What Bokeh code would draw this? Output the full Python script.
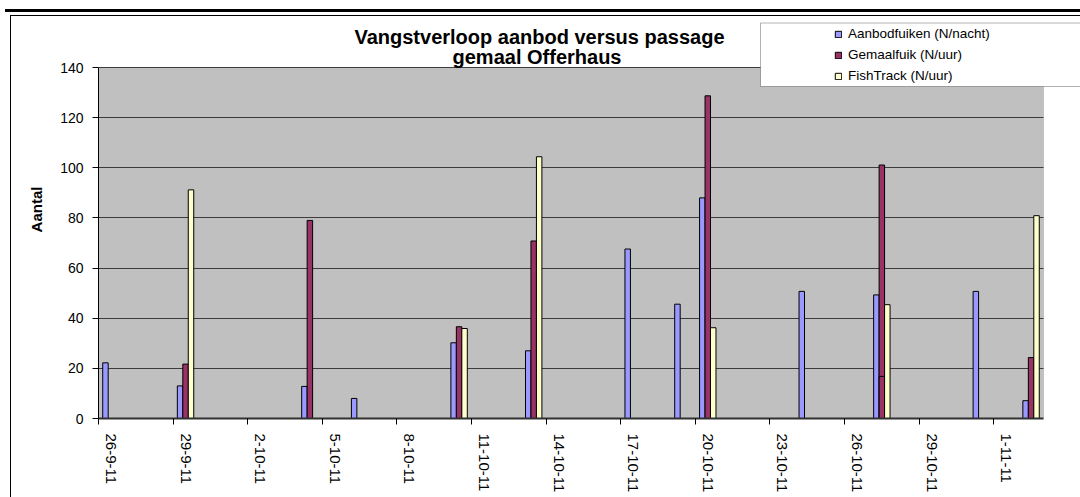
from datetime import datetime
from bokeh.plotting import figure
from bokeh.models import (Range1d, FixedTicker, Legend, LegendItem, Label,
                          BoxAnnotation, ColumnDataSource)
from bokeh.transform import dodge
from bokeh.embed import file_html
from bokeh.resources import INLINE

# ---------------- data ----------------
start_date = "26-9-11"
end_date = "2-11-11"
tick_labels = ["26-9-11", "29-9-11", "2-10-11", "5-10-11", "8-10-11", "11-10-11",
               "14-10-11", "17-10-11", "20-10-11", "23-10-11", "26-10-11",
               "29-10-11", "1-11-11"]
y_ticks = [0, 20, 40, 60, 80, 100, 120, 140]

aanbod_dates = ["26-9-11", "29-9-11", "4-10-11", "6-10-11", "10-10-11", "13-10-11",
                "17-10-11", "19-10-11", "20-10-11", "24-10-11", "27-10-11",
                "31-10-11", "2-11-11"]
aanbod_values = [22.2, 13.0, 12.8, 8.0, 30.2, 27.0, 67.6, 45.6, 88.0, 50.7, 49.3,
                 50.7, 7.1]

gemaal_dates = ["29-9-11", "4-10-11", "10-10-11", "13-10-11", "20-10-11",
                "27-10-11", "27-10-11", "2-11-11"]
gemaal_values = [21.7, 79.0, 36.6, 70.8, 128.7, 101.1, 16.8, 24.3]

fishtrack_dates = ["29-9-11", "10-10-11", "13-10-11", "20-10-11", "27-10-11",
                   "2-11-11"]
fishtrack_values = [91.2, 35.9, 104.4, 36.2, 45.4, 80.9]

series_names = ["Aanbodfuiken (N/nacht)", "Gemaalfuik (N/uur)", "FishTrack (N/uur)"]
series_colors = ["#9999FF", "#993366", "#FFFFCC"]

title_line1 = "Vangstverloop aanbod versus passage"
title_line2 = "gemaal Offerhaus"
y_label = "Aantal"

# ---------------- helpers ----------------
FONT = "Liberation Sans"


def day_index(s):
    d0 = datetime.strptime(start_date, "%d-%m-%y")
    return (datetime.strptime(s, "%d-%m-%y") - d0).days


n_days = day_index(end_date) + 1
x_lo, x_hi = -0.5, n_days - 0.5
y_lo, y_hi = y_ticks[0], y_ticks[-1]

# page geometry (px); the drawing frame is extended up to the top and right edge
W, H = 1080, 497
PL, PT, PR, PB = 98, 67, 1043, 418       # grey plot area on the page
frame_top, frame_right = 0, W
px_per_day = (PR - PL) / (x_hi - x_lo)
px_per_unit = (PB - PT) / (y_hi - y_lo)
x_end = x_hi + (frame_right - PR) / px_per_day
y_end = y_hi + (PT - frame_top) / px_per_unit


def fx(px):
    return px - PL


def fy(py):
    return PB - py


p = figure(width=W, height=H, output_backend="svg", toolbar_location=None,
           x_range=Range1d(x_lo, x_end), y_range=Range1d(y_lo, y_end),
           min_border_left=PL, min_border_right=W - frame_right,
           min_border_top=frame_top, min_border_bottom=H - PB)
p.background_fill_color = None
p.border_fill_color = None
p.outline_line_color = None

# outer chart frame lines (page decoration, drawn with CSS behind the canvas)
p.styles = {
    "background-color": "white",
    "background-image": ("linear-gradient(#000,#000), linear-gradient(#000,#000), "
                         "linear-gradient(#000,#000)"),
    "background-size": "1075px 3px, 1070px 1px, 1px 482px",
    "background-position": "5px 9px, 10px 15px, 10px 15px",
    "background-repeat": "no-repeat",
}

# grey plot area
p.add_layout(BoxAnnotation(left=x_lo, right=x_hi, bottom=y_lo, top=y_hi,
                           fill_color="#C0C0C0", fill_alpha=1,
                           line_color="#808080", line_width=1, level="image"))

# grid
p.xgrid.grid_line_color = None
p.ygrid.ticker = FixedTicker(ticks=y_ticks)
p.ygrid.grid_line_color = "#3c3c3c"
p.ygrid.grid_line_width = 1
p.ygrid.bounds = (y_lo, y_hi)
if "cross_bounds" in p.ygrid[0].properties():
    p.ygrid.cross_bounds = (x_lo, x_hi)

# y axis
p.yaxis.ticker = FixedTicker(ticks=y_ticks)
p.yaxis.bounds = (y_lo, y_hi)
p.yaxis.axis_label = y_label
p.yaxis.axis_label_text_font = FONT
p.yaxis.axis_label_text_font_style = "bold"
p.yaxis.axis_label_text_font_size = "15px"
p.yaxis.axis_label_text_color = "black"
p.yaxis.axis_label_standoff = 12
p.yaxis.major_label_text_font = FONT
p.yaxis.major_label_text_font_size = "14px"
p.yaxis.major_label_text_color = "black"
p.yaxis.major_label_standoff = 9
p.yaxis.major_tick_in = 0
p.yaxis.major_tick_out = 6
p.yaxis.major_tick_line_color = "black"
p.yaxis.minor_tick_line_color = None
p.yaxis.axis_line_color = "black"

# x axis: labels at day centres, tick marks at day edges
label_pos = [day_index(s) for s in tick_labels]
edge_pos = [v - 0.5 for v in label_pos]
p.xaxis.ticker = FixedTicker(ticks=label_pos, minor_ticks=edge_pos)
p.xaxis.bounds = (x_lo, x_hi)
p.xaxis.major_label_overrides = {v: s for v, s in zip(label_pos, tick_labels)}
p.xaxis.major_label_orientation = "vertical"
p.xaxis.major_label_text_font = FONT
p.xaxis.major_label_text_font_size = "15px"
p.xaxis.major_label_text_color = "black"
p.xaxis.major_tick_in = 0
p.xaxis.major_tick_out = 0
p.xaxis.major_label_standoff = 9
p.xaxis.minor_tick_in = 0
p.xaxis.minor_tick_out = 6
p.xaxis.minor_tick_line_color = "black"
p.xaxis.axis_line_color = "#303030"
p.xaxis.axis_line_width = 2

# bars
bar_w = 0.22
offsets = [-bar_w, 0.0, bar_w]
all_dates = [aanbod_dates, gemaal_dates, fishtrack_dates]
all_vals = [aanbod_values, gemaal_values, fishtrack_values]
renderers = []
for dates, vals, col, off in zip(all_dates, all_vals, series_colors, offsets):
    src = ColumnDataSource(dict(d=[day_index(s) for s in dates], v=vals))
    r = p.vbar(x=dodge("d", off, range=p.x_range), top="v", bottom=0, width=bar_w,
               source=src, fill_color=col, line_color="black", line_width=1)
    renderers.append(r)

# legend box + legend
p.add_layout(BoxAnnotation(left=fx(760), right=fx(1095), top=fy(22.5), bottom=fy(86),
                           left_units="screen", right_units="screen",
                           top_units="screen", bottom_units="screen",
                           fill_color="white", fill_alpha=1, line_color="black",
                           line_width=1))
legend = Legend(items=[LegendItem(label=n, renderers=[r]) for n, r in zip(series_names, renderers)],
                location=(fx(834), fy(85.75)), orientation="vertical",
                padding=0, margin=0, spacing=1, glyph_width=8, glyph_height=8,
                label_height=20, label_standoff=6,
                label_text_font=FONT, label_text_font_size="13.5px",
                label_text_color="black",
                border_line_color=None, background_fill_alpha=0)
p.add_layout(legend, "center")

# title
for txt, cx, cy in [(title_line1, 539, 36), (title_line2, 536.5, 56)]:
    p.add_layout(Label(x=fx(cx), y=fy(cy), x_units="screen", y_units="screen",
                       text=txt, text_align="center", text_baseline="middle",
                       text_font=FONT, text_font_style="bold",
                       text_font_size="20px", text_color="black"))

open("out.html", "w").write(file_html(p, INLINE))
